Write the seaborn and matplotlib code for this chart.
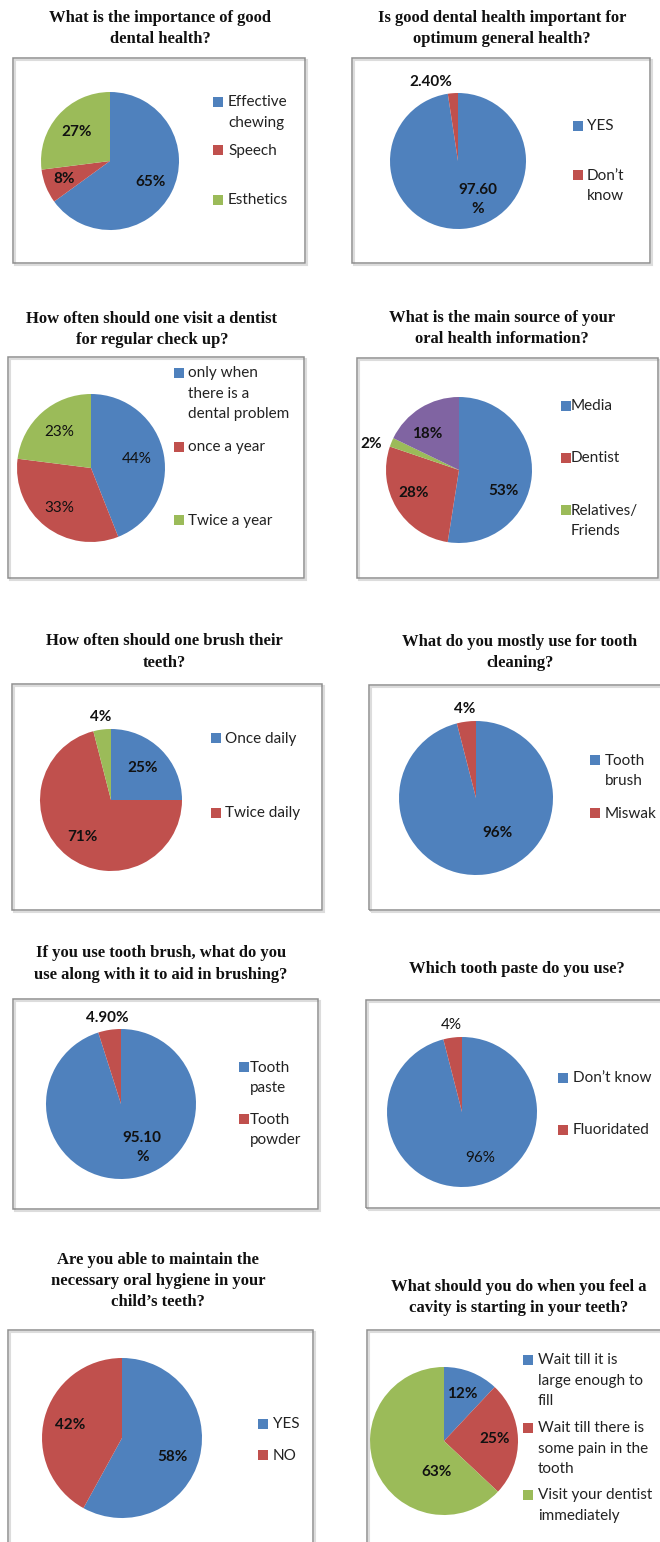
import matplotlib
matplotlib.use("Agg")
import matplotlib.pyplot as plt
from matplotlib.patches import Rectangle
import numpy as np
import seaborn as sns

sns.set_theme(style="white")
plt.rcParams['font.family'] = ['Lato', 'DejaVu Sans']

# ---------------- data ----------------
q1_title = "What is the importance of good\ndental health?"
q1_values = [65, 8, 27]
q1_texts = ["65%", "8%", "27%"]
q1_legend = ["Effective\nchewing", "Speech", "Esthetics"]

q2_title = "Is good dental health important for\noptimum general health?"
q2_values = [97.6, 2.4]
q2_texts = ["97.60\n%", "2.40%"]
q2_legend = ["YES", "Don\u2019t\nknow"]

q3_title = "How often should one visit a dentist\nfor regular check up?"
q3_values = [44, 33, 23]
q3_texts = ["44%", "33%", "23%"]
q3_legend = ["only when\nthere is a\ndental problem", "once a year", "Twice a year"]

q4_title = "What is the main source of your\noral health information?"
q4_values = [53, 28, 2, 18]
q4_texts = ["53%", "28%", "2%", "18%"]
q4_legend = ["Media", "Dentist", "Relatives/\nFriends"]

q5_title = "How often should one brush their\nteeth?"
q5_values = [25, 71, 4]
q5_texts = ["25%", "71%", "4%"]
q5_legend = ["Once daily", "Twice daily"]

q6_title = "What do you mostly use for tooth\ncleaning?"
q6_values = [96, 4]
q6_texts = ["96%", "4%"]
q6_legend = ["Tooth\nbrush", "Miswak"]

q7_title = "If you use tooth brush, what do you\nuse along with it to aid in brushing?"
q7_values = [95.1, 4.9]
q7_texts = ["95.10\n%", "4.90%"]
q7_legend = ["Tooth\npaste", "Tooth\npowder"]

q8_title = "Which tooth paste do you use?"
q8_values = [96, 4]
q8_texts = ["96%", "4%"]
q8_legend = ["Don\u2019t know", "Fluoridated"]

q9_title = "Are you able to maintain the\nnecessary oral hygiene in your\nchild\u2019s teeth?"
q9_values = [58, 42]
q9_texts = ["58%", "42%"]
q9_legend = ["YES", "NO"]

q10_title = "What should you do when you feel a\ncavity is starting in your teeth?"
q10_values = [12, 25, 63]
q10_texts = ["12%", "25%", "63%"]
q10_legend = ["Wait till it is\nlarge enough to\nfill", "Wait till there is\nsome pain in the\ntooth", "Visit your dentist\nimmediately"]

palette = sns.color_palette(["#4F81BD", "#C0504D", "#9BBB59", "#8064A2"])

# ---------------- layout (pixels) ----------------
W, H = 660, 1542
fig = plt.figure(figsize=(W / 100, H / 100), dpi=100)
fig.patch.set_facecolor("white")


def fx(x):
    return x / W


def fy(y):
    return 1 - y / H


panels = [
    dict(title=q1_title, values=q1_values, texts=q1_texts, legend=q1_legend,
         tpos=(160, 28.5), box=(13, 58, 305, 263), center=(110, 161), r=69,
         dist=[0.66, 0.72, 0.64], bold=True,
         leg_sq=213, leg_tx=228, leg_y=[102, 150, 200]),
    dict(title=q2_title, values=q2_values, texts=q2_texts, legend=q2_legend,
         tpos=(502, 28.5), box=(352, 58, 650, 263), center=(458, 161), r=68,
         dist=[0.64, 1.16], ang=[23, 0], bold=True, ha_out=[None, 'right'],
         leg_sq=573, leg_tx=587, leg_y=[126, 175]),
    dict(title=q3_title, values=q3_values, texts=q3_texts, legend=q3_legend,
         tpos=(152, 329.5), box=(8, 357, 304, 578), center=(91, 468), r=74,
         dist=[0.63, 0.69, 0.65], bold=False,
         leg_sq=174, leg_tx=188, leg_y=[373, 447, 520]),
    dict(title=q4_title, values=q4_values, texts=q4_texts, legend=q4_legend,
         tpos=(502, 328.5), box=(357, 358, 658, 578), center=(459, 470), r=73,
         dist=[0.67, 0.7, 1.25, 0.66], ang=[-21, -5, 6, 9], bold=True,
         leg_sq=561, leg_tx=571, leg_y=[406, 458, 510]),
    dict(title=q5_title, values=q5_values, texts=q5_texts, legend=q5_legend,
         tpos=(164, 652), box=(12, 684, 322, 910), center=(111, 800), r=71,
         dist=[0.63, 0.66, 1.18], bold=True,
         leg_sq=211, leg_tx=225, leg_y=[738, 813]),
    dict(title=q6_title, values=q6_values, texts=q6_texts, legend=q6_legend,
         tpos=(520, 652.5), box=(369, 685, 668, 910), center=(476, 798), r=77,
         dist=[0.53, 1.17], ang=[24, 0], bold=True,
         leg_sq=590, leg_tx=605, leg_y=[760, 813]),
    dict(title=q7_title, values=q7_values, texts=q7_texts, legend=q7_legend,
         tpos=(161, 964), box=(13, 999, 318, 1209), center=(121, 1104), r=75,
         dist=[0.65, 1.16], ang=[17, 0], bold=True,
         leg_sq=239, leg_tx=250, leg_y=[1067, 1119]),
    dict(title=q8_title, values=q8_values, texts=q8_texts, legend=q8_legend,
         tpos=(517, 969), box=(366, 1000, 668, 1208), center=(462, 1112), r=75,
         dist=[0.66, 1.17], ang=[14, 0], bold=False,
         leg_sq=558, leg_tx=573, leg_y=[1078, 1130]),
    dict(title=q9_title, values=q9_values, texts=q9_texts, legend=q9_legend,
         tpos=(158, 1281), box=(8, 1330, 313, 1560), center=(122, 1438), r=80,
         dist=[0.67, 0.67], ang=[-6, 0], bold=True,
         leg_sq=258, leg_tx=273, leg_y=[1424, 1455]),
    dict(title=q10_title, values=q10_values, texts=q10_texts, legend=q10_legend,
         tpos=(519, 1297.5), box=(367, 1330, 668, 1560), center=(444, 1441), r=74,
         dist=[0.69, 0.69, 0.43], ang=[0, 0, 54], bold=True,
         leg_sq=523, leg_tx=538, leg_y=[1360, 1428, 1495]),
]

for p in panels:
    # frame box with light shadow
    x0, y0, x1, y1 = p["box"]
    fig.patches.append(Rectangle((fx(x0 + 2), fy(y1 + 2)), (x1 - x0) / W, (y1 - y0) / H,
                                 transform=fig.transFigure, fill=False,
                                 edgecolor="#dcdcdc", lw=1.5, zorder=0))
    fig.patches.append(Rectangle((fx(x0), fy(y1)), (x1 - x0) / W, (y1 - y0) / H,
                                 transform=fig.transFigure, fill=False,
                                 edgecolor="#8f8f8f", lw=1.1, zorder=1))
    # title
    fig.text(fx(p["tpos"][0]), fy(p["tpos"][1]), p["title"], ha="center", va="center",
             family=["Liberation Serif", "DejaVu Serif"], weight="bold", fontsize=12,
             linespacing=1.45, color="#111111")
    # pie
    cx, cy = p["center"]
    r = p["r"]
    ax = fig.add_axes([fx(cx - r), fy(cy + r), 2 * r / W, 2 * r / H])
    wedges, _ = ax.pie(p["values"], colors=palette[:len(p["values"])], startangle=90,
                       counterclock=False, wedgeprops=dict(linewidth=0))
    ax.set_xlim(-1, 1)
    ax.set_ylim(-1, 1)
    ax.set_axis_off()
    n = len(wedges)
    has = p.get("ha_out", [None] * n)
    angs = p.get("ang", [0] * n)
    for w, txt, d, ha, da in zip(wedges, p["texts"], p["dist"], has, angs):
        th = np.deg2rad((w.theta1 + w.theta2) / 2 + da)
        ax.text(d * np.cos(th), d * np.sin(th), txt, ha=ha or "center", va="center",
                fontsize=11, weight="bold" if p["bold"] else "normal",
                color="#111111", linespacing=1.45)
    # legend
    sq = 10
    for lab, ly, col in zip(p["legend"], p["leg_y"], palette):
        fig.patches.append(Rectangle((fx(p["leg_sq"]), fy(ly + sq / 2)), sq / W, sq / H,
                                     transform=fig.transFigure, facecolor=col,
                                     edgecolor="none", zorder=2))
        fig.text(fx(p["leg_tx"]), fy(ly - 6.5), lab, ha="left", va="top",
                 fontsize=11, color="#222222", linespacing=1.55)

fig.savefig("out.png", dpi=100, facecolor="white")
